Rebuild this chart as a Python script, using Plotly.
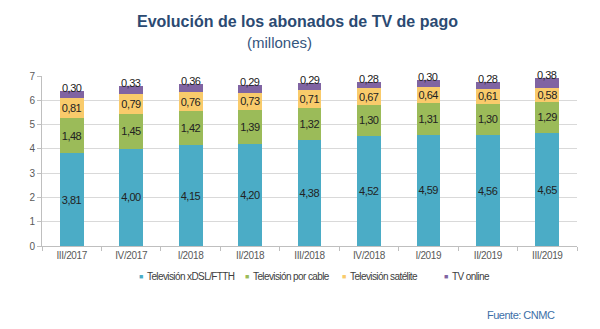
import plotly.graph_objects as go

categories = ["III/2017", "IV/2017", "I/2018", "II/2018", "III/2018", "IV/2018", "I/2019", "II/2019", "III/2019"]
xdsl = [3.81, 4.00, 4.15, 4.20, 4.38, 4.52, 4.59, 4.56, 4.65]
cable = [1.48, 1.45, 1.42, 1.39, 1.32, 1.30, 1.31, 1.30, 1.29]
satelite = [0.81, 0.79, 0.76, 0.73, 0.71, 0.67, 0.64, 0.61, 0.58]
online = [0.30, 0.33, 0.36, 0.29, 0.29, 0.28, 0.30, 0.28, 0.38]

series_names = ["Televisión xDSL/FTTH", "Televisión por cable", "Televisión satélite", "TV online"]
series_values = [xdsl, cable, satelite, online]
series_colors = ["#4BACC6", "#9BBB59", "#F9CB6B", "#8064A2"]

FONT = "Liberation Sans, Arial, sans-serif"

L, R, T, B, W, H = 42, 23, 76, 83, 600, 329
PW, PH = W - L - R, H - T - B


def px(x):
    return (x - L) / PW


def py(y):
    return (H - B - y) / PH


def narrow(s, ls=-0.6):
    return f'<span style="letter-spacing:{ls}px">{s}</span>'


fig = go.Figure()
for i, (name, vals, color) in enumerate(zip(series_names, series_values, series_colors)):
    inside = i < 3
    fig.add_trace(go.Bar(
        x=categories, y=vals, name=name, marker=dict(color=color, line=dict(width=0)),
        texttemplate=narrow("%{y:.2f}", -0.5) if inside else None,
        textposition="inside" if inside else "none",
        insidetextanchor="middle", textangle=0, constraintext="none",
        textfont=dict(family=FONT, size=11, color="#222222"),
        hoverinfo="skip", showlegend=False,
    ))

totals = [a + b + c + d for a, b, c, d in zip(xdsl, cable, satelite, online)]
for cat, tot, v in zip(categories, totals, online):
    fig.add_annotation(x=cat, y=tot, text=narrow(f"{v:.2f}".replace(".", ","), -0.5), showarrow=False,
                       yanchor="middle", yshift=3,
                       font=dict(family=FONT, size=11, color="#222222"))

# Title
fig.add_annotation(xref="paper", yref="paper", x=px(297), y=py(21),
                   text="<b>Evolución de los abonados de TV de pago</b>", showarrow=False,
                   xanchor="center", yanchor="middle",
                   font=dict(family=FONT, size=16, color="#2B4A72"))
fig.add_annotation(xref="paper", yref="paper", x=px(279), y=py(42),
                   text="(millones)", showarrow=False, xanchor="center", yanchor="middle",
                   font=dict(family=FONT, size=15, color="#34557E"))
fig.add_annotation(xref="paper", yref="paper", x=px(557), y=py(315),
                   text=narrow("Fuente: CNMC", -0.5), showarrow=False, xanchor="right", yanchor="middle",
                   font=dict(family=FONT, size=11, color="#3D6FA8"))

# Compact legend
legend_x = [141, 247, 344, 446]
for name, color, lx in zip(series_names, series_colors, legend_x):
    fig.add_annotation(xref="paper", yref="paper", x=px(lx), y=py(276), text="■",
                       showarrow=False, xanchor="center", yanchor="middle",
                       font=dict(family=FONT, size=7, color=color))
    fig.add_annotation(xref="paper", yref="paper", x=px(lx + 4), y=py(276), text=narrow(name, -0.6),
                       showarrow=False, xanchor="left", yanchor="middle",
                       font=dict(family=FONT, size=10, color="#404040"))

fig.update_layout(
    barmode="stack", bargap=0.6, width=W, height=H,
    margin=dict(l=L, r=R, t=T, b=B),
    paper_bgcolor="white", plot_bgcolor="white",
    separators=",.", showlegend=False,
    uniformtext=dict(minsize=11, mode="show"),
    font=dict(family=FONT, size=10, color="#595959"),
    xaxis=dict(showline=True, linecolor="#BFBFBF", ticks="outside", tickson="boundaries",
               ticklen=4, tickcolor="#BFBFBF",
               tickmode="array", tickvals=categories, ticktext=[narrow(c, -0.35) for c in categories],
               tickfont=dict(family=FONT, size=10, color="#595959")),
    yaxis=dict(range=[0, 7], dtick=1, showgrid=True, gridcolor="#D9D9D9", showline=True,
               linecolor="#BFBFBF", ticks="outside", ticklen=4, tickcolor="#BFBFBF",
               zeroline=False, tickfont=dict(family=FONT, size=10, color="#595959")),
)

fig.write_html("out.html")
